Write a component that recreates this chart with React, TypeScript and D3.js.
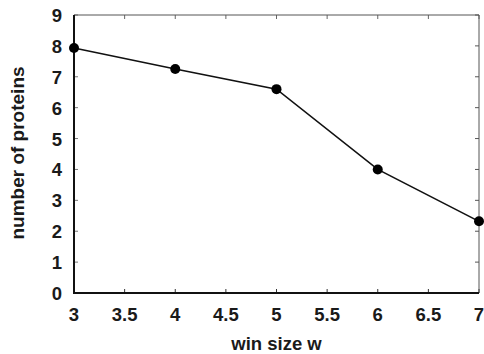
import React from "react";
import * as d3 from "d3";

const winSizes = [3, 4, 5, 6, 7];
const proteinCounts = [7.93, 7.25, 6.6, 4.0, 2.32];
const xTicks = [3, 3.5, 4, 4.5, 5, 5.5, 6, 6.5, 7];
const yTicks = [0, 1, 2, 3, 4, 5, 6, 7, 8, 9];

const W = 484, H = 354;
const L = 74, R = 479, T = 15, B = 293;

export default function App() {
  const x = d3.scaleLinear().domain([3, 7]).range([L, R]);
  const y = d3.scaleLinear().domain([0, 9]).range([B, T]);
  const line = d3.line<number>().x((_, i) => x(winSizes[i])).y((d) => y(d));
  const font = "Liberation Sans, Arial, sans-serif";
  const fs = 18.5;
  return (
    <svg width={W} height={H} style={{ position: "absolute", left: 0, top: 0 }}>
      <rect width={W} height={H} fill="white" />
      {xTicks.map((t) => (
        <g key={"x" + t}>
          <line x1={x(t)} x2={x(t)} y1={B} y2={B - 4} stroke="#333" strokeWidth={1} />
          <line x1={x(t)} x2={x(t)} y1={T} y2={T + 4} stroke="#666" strokeWidth={1} />
          <text x={x(t)} y={B + 28} textAnchor="middle" fontFamily={font} fontSize={fs} fontWeight="bold" fill="#1a1a1a">{t}</text>
        </g>
      ))}
      {yTicks.map((t) => (
        <g key={"y" + t}>
          <line x1={L} x2={L + 4} y1={y(t)} y2={y(t)} stroke="#777" strokeWidth={1} />
          <line x1={R} x2={R - 4} y1={y(t)} y2={y(t)} stroke="#555" strokeWidth={1} />
          <text x={62} y={y(t) + 7} textAnchor="end" fontFamily={font} fontSize={fs} fontWeight="bold" fill="#1a1a1a">{t}</text>
        </g>
      ))}
      <line x1={L} x2={R} y1={T} y2={T} stroke="#555" strokeWidth={1} />
      <line x1={R} x2={R} y1={T} y2={B} stroke="#555" strokeWidth={1} />
      <line x1={L} x2={L} y1={T} y2={B + 1} stroke="#111" strokeWidth={2} />
      <line x1={L - 1} x2={R} y1={B} y2={B} stroke="#111" strokeWidth={2} />
      <path d={line(proteinCounts) || ""} fill="none" stroke="#111" strokeWidth={1.6} />
      {proteinCounts.map((v, i) => (
        <circle key={i} cx={x(winSizes[i])} cy={y(v)} r={5} fill="#000" />
      ))}
      <text x={276.5} y={350} textAnchor="middle" fontFamily={font} fontSize={fs} fontWeight="bold" fill="#1a1a1a">win size w</text>
      <text transform={`translate(24,153) rotate(-90)`} textAnchor="middle" fontFamily={font} fontSize={fs + 0.5} fontWeight="bold" fill="#1a1a1a">number of proteins</text>
    </svg>
  );
}
